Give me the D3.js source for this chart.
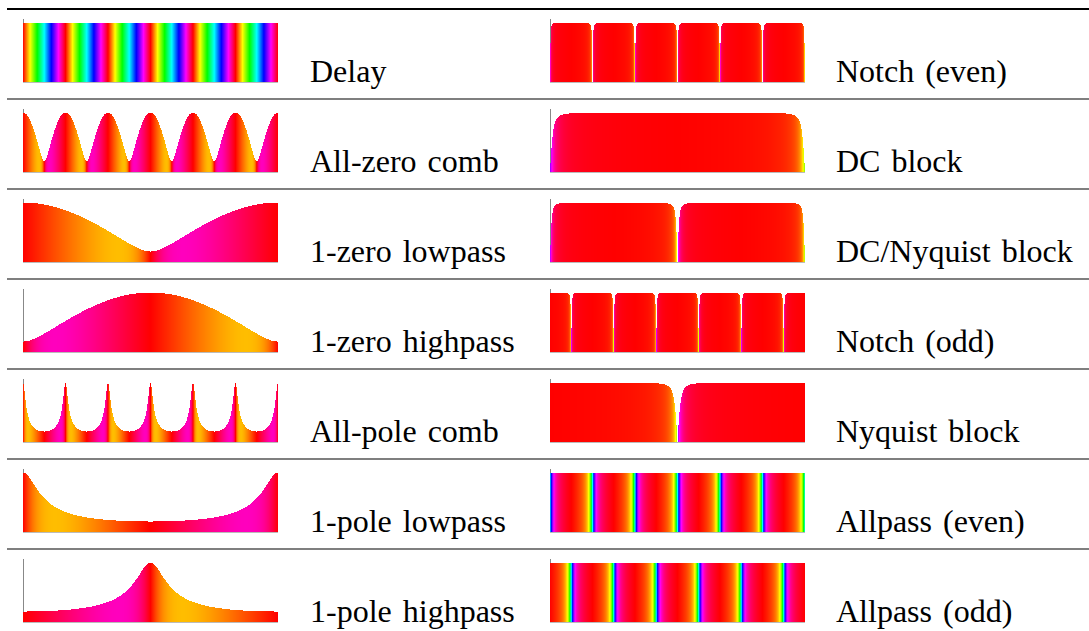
<!DOCTYPE html>
<html>
<head>
<meta charset="utf-8">
<script src="https://cdn.jsdelivr.net/npm/d3@7"></script>
<style>
  html, body { margin: 0; padding: 0; background: #fff; }
  svg { display: block; }
  .label { font-family: "Liberation Serif", "DejaVu Serif", serif; font-size: 32px; fill: #000; word-spacing: 3px; }
</style>
</head>
<body>
<svg id="chart" width="1089" height="631"></svg>
<script>
// Row labels of the two table columns
const leftLabels = ["Delay", "All-zero comb", "1-zero lowpass", "1-zero highpass",
                    "All-pole comb", "1-pole lowpass", "1-pole highpass"];
const rightLabels = ["Notch (even)", "DC block", "DC/Nyquist block", "Notch (odd)",
                     "Nyquist block", "Allpass (even)", "Allpass (odd)"];

// Filter coefficients, polynomials in z^-1:  H(z) = B(z) / A(z)
const leftB = [
  [0, 0, 0, 0, 0, 0, 1],
  [1, 0, 0, 0, 0, 0, 0.7],
  [1, 0.7],
  [1, -0.7],
  [1],
  [1],
  [1]
];
const leftA = [
  [1],
  [1],
  [1],
  [1],
  [1, 0, 0, 0, 0, 0, -0.7],
  [1, -0.7],
  [1, 0.7]
];
const rightB = [
  [1, 0, 0, 0, 0, 0, -1],
  [1, -1],
  [1, 0, -1],
  [1, 0, 0, 0, 0, 0, 1],
  [1, 1],
  [0.7, 0, 0, 0, 0, 0, -1],
  [0.7, 0, 0, 0, 0, 0, 1]
];
const rightA = [
  [1, 0, 0, 0, 0, 0, -0.92],
  [1, -0.92],
  [1, 0, -0.92],
  [1, 0, 0, 0, 0, 0, 0.92],
  [1, 0.92],
  [1, 0, 0, 0, 0, 0, -0.7],
  [1, 0, 0, 0, 0, 0, 0.7]
];

// Layout
const W = 1089, H = 631;
const firstRule = 9, rowStep = 90;
const plotW = 255, columnCount = 255;
const columns = [
  { plotX: 23,  labelX: 310, labels: leftLabels,  B: leftB,  A: leftA },
  { plotX: 550, labelX: 836, labels: rightLabels, B: rightB, A: rightA }
];

const svg = d3.select("#chart");

// Evaluate a polynomial in z^-1 on the unit circle at angular frequency w
function evalPoly(c, w) {
  let re = 0, im = 0;
  c.forEach((v, k) => { re += v * Math.cos(k * w); im -= v * Math.sin(k * w); });
  return [re, im];
}
function freqResponse(b, a, w) {
  const [nr, ni] = evalPoly(b, w);
  const [dr, di] = evalPoly(a, w);
  const den = dr * dr + di * di;
  const re = (nr * dr + ni * di) / den;
  const im = (ni * dr - nr * di) / den;
  return { mag: Math.hypot(re, im), phase: Math.atan2(im, re) };
}

// Table rules
const ruleYs = d3.range(7).map(k => firstRule + rowStep * k);
svg.append("g").selectAll("line").data(ruleYs).join("line")
  .attr("x1", 7).attr("x2", W)
  .attr("y1", d => d).attr("y2", d => d)
  .attr("stroke", "#000")
  .attr("stroke-width", (d, i) => i === 0 ? 2.2 : 1.2);

columns.forEach(col => {
  col.labels.forEach((label, row) => {
    const rule = ruleYs[row];
    const bottom = rule + 73, axisTop = rule + 10;
    const b = col.B[row], a = col.A[row];

    const x = d3.scaleLinear().domain([0, 2 * Math.PI]).range([col.plotX, col.plotX + plotW]);
    const samples = d3.range(columnCount).map(i => {
      const w0 = (i / columnCount) * 2 * Math.PI;
      const w1 = ((i + 1) / columnCount) * 2 * Math.PI;
      const r = freqResponse(b, a, (w0 + w1) / 2);
      return { w0, w1, mag: r.mag, phase: r.phase };
    });
    const maxMag = d3.max(samples, d => d.mag);
    const y = d3.scaleLinear().domain([0, maxMag * 1.06]).range([bottom, axisTop]);
    const hue = d3.scaleLinear().domain([-Math.PI, Math.PI]).range([180, -180]);

    const g = svg.append("g");
    // axis spines
    g.append("line")
      .attr("x1", col.plotX + 0.5).attr("x2", col.plotX + 0.5)
      .attr("y1", axisTop).attr("y2", bottom)
      .attr("stroke", "#888").attr("stroke-width", 1);
    g.append("line")
      .attr("x1", col.plotX).attr("x2", col.plotX + plotW)
      .attr("y1", bottom + 0.5).attr("y2", bottom + 0.5)
      .attr("stroke", "#bbb").attr("stroke-width", 1);

    // magnitude as column height, phase as hue
    g.append("g").attr("shape-rendering", "crispEdges")
      .selectAll("rect").data(samples).join("rect")
      .attr("x", d => x(d.w0))
      .attr("width", d => x(d.w1) - x(d.w0))
      .attr("y", d => Math.round(y(d.mag)))
      .attr("height", d => Math.max(0, Math.round(bottom) - Math.round(y(d.mag))))
      .attr("fill", d => d3.hsl(((hue(d.phase) % 360) + 360) % 360, 1, 0.5).toString());

    svg.append("text").attr("class", "label")
      .attr("x", col.labelX).attr("y", bottom)
      .text(label);
  });
});
</script>
</body>
</html>
